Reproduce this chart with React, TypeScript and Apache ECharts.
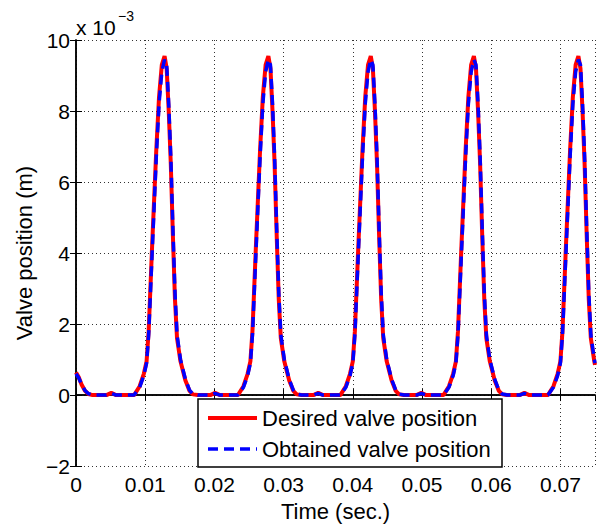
import React, { useEffect, useRef } from "react";
import * as echarts from "echarts";

// time samples (s)
const timeSec: number[] = [
  0, 0.0004, 0.0008, 0.0013, 0.0018, 0.0024, 0.0044, 0.0051, 0.0058,
  0.0084, 0.0092, 0.0098, 0.0102, 0.0105, 0.011, 0.0116, 0.012, 0.0124, 0.0128, 0.0131, 0.0134, 0.0137, 0.014, 0.0143, 0.0146, 0.0151, 0.0158, 0.0164, 0.0169, 0.0176, 0.0194, 0.0201, 0.0208,
  0.0234, 0.0242, 0.0248, 0.0252, 0.0255, 0.026, 0.0266, 0.027, 0.0274, 0.0278, 0.0281, 0.0284, 0.0287, 0.029, 0.0293, 0.0296, 0.0301, 0.0308, 0.0314, 0.0319, 0.0326, 0.0343, 0.035, 0.0357,
  0.0382, 0.039, 0.0396, 0.04, 0.0403, 0.0408, 0.0414, 0.0418, 0.0422, 0.0426, 0.0429, 0.0432, 0.0435, 0.0438, 0.0441, 0.0444, 0.0449, 0.0456, 0.0462, 0.0467, 0.0474, 0.0492, 0.0499, 0.0506,
  0.0531, 0.0539, 0.0545, 0.0549, 0.0552, 0.0557, 0.0563, 0.0567, 0.0571, 0.0575, 0.0578, 0.0581, 0.0584, 0.0587, 0.059, 0.0593, 0.0598, 0.0605, 0.0611, 0.0616, 0.0623, 0.0641, 0.0648, 0.0655,
  0.0682, 0.069, 0.0696, 0.07, 0.0703, 0.0708, 0.0714, 0.0718, 0.0722, 0.0726, 0.0729, 0.0732, 0.0735, 0.0738, 0.0741, 0.0744, 0.0749, 0.075,
];

// desired valve position (x 10^-3 m)
const desiredPos: number[] = [
  0.64, 0.5, 0.3, 0.12, 0.03, 0, 0, 0.06, 0,
  0, 0.25, 0.6, 0.95, 1.8, 4.2, 6.9, 8.4, 9.3, 9.55, 9.2, 8.0, 6.5, 4.5, 2.7, 1.6, 0.95, 0.42, 0.12, 0.02, 0, 0, 0.06, 0,
  0, 0.25, 0.6, 0.95, 1.8, 4.2, 6.9, 8.4, 9.3, 9.55, 9.2, 8.0, 6.5, 4.5, 2.7, 1.6, 0.95, 0.42, 0.12, 0.02, 0, 0, 0.06, 0,
  0, 0.25, 0.6, 0.95, 1.8, 4.2, 6.9, 8.4, 9.3, 9.55, 9.2, 8.0, 6.5, 4.5, 2.7, 1.6, 0.95, 0.42, 0.12, 0.02, 0, 0, 0.06, 0,
  0, 0.25, 0.6, 0.95, 1.8, 4.2, 6.9, 8.4, 9.3, 9.55, 9.2, 8.0, 6.5, 4.5, 2.7, 1.6, 0.95, 0.42, 0.12, 0.02, 0, 0, 0.06, 0,
  0, 0.25, 0.6, 0.95, 1.8, 4.2, 6.9, 8.4, 9.3, 9.55, 9.2, 8.0, 6.5, 4.5, 2.7, 1.6, 0.95, 0.85,
];

// obtained valve position (x 10^-3 m)
const obtainedPos: number[] = [
  0.6, 0.48, 0.3, 0.13, 0.04, 0, 0, 0.05, 0,
  0, 0.22, 0.55, 0.9, 1.7, 4.0, 6.7, 8.2, 9.1, 9.45, 9.3, 8.2, 6.7, 4.7, 2.9, 1.7, 1.0, 0.45, 0.14, 0.03, 0, 0, 0.05, 0,
  0, 0.22, 0.55, 0.9, 1.7, 4.0, 6.7, 8.2, 9.1, 9.45, 9.3, 8.2, 6.7, 4.7, 2.9, 1.7, 1.0, 0.45, 0.14, 0.03, 0, 0, 0.05, 0,
  0, 0.22, 0.55, 0.9, 1.7, 4.0, 6.7, 8.2, 9.1, 9.45, 9.3, 8.2, 6.7, 4.7, 2.9, 1.7, 1.0, 0.45, 0.14, 0.03, 0, 0, 0.05, 0,
  0, 0.22, 0.55, 0.9, 1.7, 4.0, 6.7, 8.2, 9.1, 9.45, 9.3, 8.2, 6.7, 4.7, 2.9, 1.7, 1.0, 0.45, 0.14, 0.03, 0, 0, 0.05, 0,
  0, 0.22, 0.55, 0.9, 1.7, 4.0, 6.7, 8.2, 9.1, 9.45, 9.3, 8.2, 6.7, 4.7, 2.9, 1.7, 1.0, 0.9,
];

const seriesNames = ["Desired valve position", "Obtained valve position"];
const xTicks = { min: 0, max: 0.075, interval: 0.01 };
const yTicks = { min: -2, max: 10, interval: 2 };

const FONT = "'Liberation Sans', Arial, Helvetica, sans-serif";
const RED = "#ff0000";
const BLUE = "#0000ff";

export default function App() {
  const ref = useRef<HTMLDivElement>(null);
  useEffect(() => {
    document.body.style.margin = "0";
    if (!ref.current) return;
    const chart = echarts.init(ref.current, null, { renderer: "svg" });
    const gridLine = { show: true, lineStyle: { color: "#333", width: 1, type: [1, 3] as any } };
    const tick = { show: true, inside: true, length: 6, lineStyle: { color: "#000", width: 1 } };
    const axisLine = { show: true, lineStyle: { color: "#000", width: 1.5 } };
    const xFmt = (v: number) => {
      const k = v * 100;
      if (Math.abs(k - Math.round(k)) > 1e-6) return "";
      return v === 0 ? "0" : String(Math.round(k) / 100);
    };
    const yFmt = (v: number) => (v < 0 ? "\u2212" + Math.abs(v) : String(v));
    chart.setOption({
      animation: false,
      textStyle: { fontFamily: FONT },
      grid: { left: 76, right: 5, top: 40, bottom: 58, containLabel: false },
      xAxis: [
        {
          type: "value",
          ...xTicks,
          name: "Time (sec.)",
          nameLocation: "middle",
          nameGap: 28,
          nameTextStyle: { fontSize: 22, color: "#000", fontFamily: FONT },
          axisLine,
          axisTick: tick,
          splitLine: gridLine,
          axisLabel: { fontSize: 21, color: "#000", margin: 8, formatter: xFmt, showMaxLabel: false, fontFamily: FONT },
        },
        {
          type: "value",
          position: "top",
          ...xTicks,
          axisLine,
          axisTick: tick,
          splitLine: { show: false },
          axisLabel: { show: false },
        },
      ],
      yAxis: [
        {
          type: "value",
          ...yTicks,
          name: "Valve position (m)",
          nameLocation: "middle",
          nameGap: 33,
          nameTextStyle: { fontSize: 22, color: "#000", fontFamily: FONT },
          axisLine,
          axisTick: tick,
          splitLine: gridLine,
          axisLabel: { fontSize: 21, color: "#000", margin: 6, formatter: yFmt, fontFamily: FONT },
        },
        {
          type: "value",
          position: "right",
          ...yTicks,
          axisLine,
          axisTick: tick,
          splitLine: { show: false },
          axisLabel: { show: false },
        },
      ],
      graphic: [
        {
          type: "text",
          x: 76,
          y: 27,
          style: { text: "x 10", font: `21px ${FONT}`, fill: "#000", verticalAlign: "middle", align: "left" },
        },
        {
          type: "text",
          x: 118,
          y: 16,
          style: { text: "\u22123", font: `14px ${FONT}`, fill: "#000", verticalAlign: "middle", align: "left" },
        },
        {
          type: "group",
          z: 100,
          children: [
            {
              type: "rect",
              z: 100,
              shape: { x: 198, y: 399, width: 304, height: 68 },
              style: { fill: "#fff", stroke: "#000", lineWidth: 1.5 },
            },
            {
              type: "line",
              z: 101,
              shape: { x1: 208, y1: 418, x2: 257, y2: 418 },
              style: { stroke: RED, lineWidth: 4 },
            },
            {
              type: "line",
              z: 101,
              shape: { x1: 208, y1: 449, x2: 257, y2: 449 },
              style: { stroke: BLUE, lineWidth: 3.5, lineDash: [10, 6] },
            },
            {
              type: "text",
              z: 101,
              x: 262,
              y: 418,
              style: { text: seriesNames[0], font: `22px ${FONT}`, fill: "#000", verticalAlign: "middle", align: "left" },
            },
            {
              type: "text",
              z: 101,
              x: 262,
              y: 449,
              style: { text: seriesNames[1], font: `22px ${FONT}`, fill: "#000", verticalAlign: "middle", align: "left" },
            },
          ],
        },
      ],
      series: [
        {
          name: seriesNames[0],
          type: "line",
          symbol: "none",
          data: timeSec.map((t, i) => [t, desiredPos[i]]),
          lineStyle: { color: RED, width: 4 },
          itemStyle: { color: RED },
          z: 2,
        },
        {
          name: seriesNames[1],
          type: "line",
          symbol: "none",
          data: timeSec.map((t, i) => [t, obtainedPos[i]]),
          lineStyle: { color: BLUE, width: 3.5, type: [10, 6] },
          itemStyle: { color: BLUE },
          z: 3,
        },
      ],
    });
    return () => chart.dispose();
  }, []);
  return <div ref={ref} style={{ width: 600, height: 527 }} />;
}
